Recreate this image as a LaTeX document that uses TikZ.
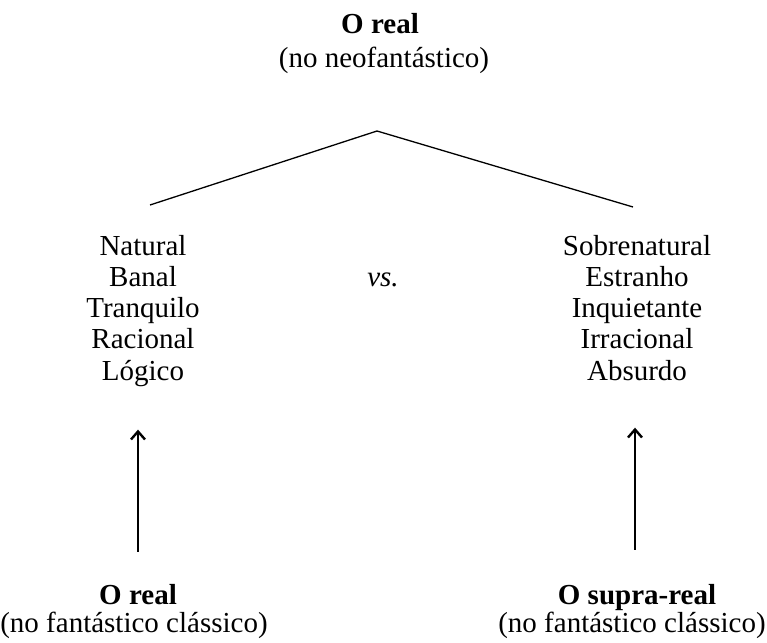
\documentclass[tikz,border=0pt]{standalone}
\usepackage{fontspec}
\setmainfont{Liberation Serif}
\usetikzlibrary{arrows.meta, positioning}

\begin{document}
\begin{tikzpicture}[x=1pt, y=-1pt, >={Straight Barb[length=8pt,width=14pt]},
    pojem/.style={font=\fontsize{29}{31}\selectfont, anchor=base, inner sep=0pt},
    nazev/.style={pojem, font=\fontsize{29}{31}\selectfont\bfseries},
    sipka/.style={->, line width=2.4pt}]
    \useasboundingbox (0,0) rectangle (767,642);
    % Nahore
    \node[nazev] (toptitle) at (380,34) {O real};
    \node[pojem] (topsub) at (384,67) {(no neofantástico)};
    \coordinate (apex) at (377,131);
    \coordinate (lend) at (150,205);
    \coordinate (rend) at (633,207);
    \draw[line width=1.3pt] (lend) -- (apex) -- (rend);
    % Sloupce
    \foreach \w [count=\i] in {Natural,Banal,Tranquilo,Racional,Lógico}
        \node[pojem] (l\i) at (143,{255+31.3*(\i-1)}) {\w};
    \foreach \w [count=\i] in {Sobrenatural,Estranho,Inquietante,Irracional,Absurdo}
        \node[pojem] (r\i) at (637,{255+31.3*(\i-1)}) {\w};
    \node[pojem, font=\fontsize{29}{31}\selectfont\itshape] (vs) at (383,286) {vs.};
    % Dole
    \node[nazev] (reall) at (138,604) {O real};
    \node[pojem] (realsub) at (134,632) {(no fantástico clássico)};
    \node[nazev] (supra) at (637,604) {O supra-real};
    \node[pojem] (suprasub) at (632,632) {(no fantástico clássico)};
    \draw[sipka, shorten <=32pt, shorten >=43pt] (reall.north) -- (reall.north |- l5.south);
    \draw[sipka, shorten <=34pt, shorten >=47pt] ([xshift=-2pt]supra.north) -- ([xshift=-2pt]supra.north |- r5.south);
\end{tikzpicture}
\end{document}
